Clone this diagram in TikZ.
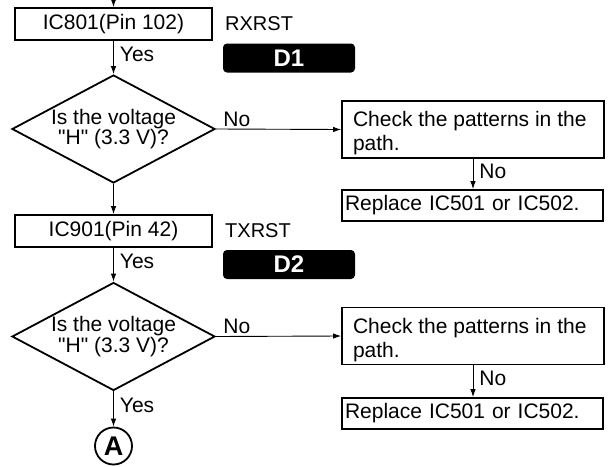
\documentclass[tikz,border=0pt]{standalone}
\usepackage{fontspec}
\setmainfont{Liberation Sans}[Ligatures=TeXOff]
\usetikzlibrary{shapes.geometric,arrows.meta}

\begin{document}
\begin{tikzpicture}[x=1pt,y=-1pt,>={Latex[length=8pt,width=5.5pt]},
	every node/.style={font=\fontsize{21}{24}\selectfont},
	icbox/.style={draw,line width=1.8pt,minimum width=197pt,minimum height=32pt,inner sep=0pt},
	chkbox/.style={draw,line width=1.8pt,minimum width=262pt,minimum height=57pt,inner xsep=11pt,inner ysep=0pt},
	repbox/.style={draw,line width=1.8pt,text width=255pt,align=left,minimum height=31pt,inner xsep=3pt,inner ysep=0pt},
	query/.style={diamond,draw,line width=1.8pt,aspect=1.88,minimum width=203pt,minimum height=108pt,inner sep=0pt,align=center,font=\fontsize{21}{19}\selectfont},
	badge/.style={fill=black,rounded corners=4pt,minimum width=132pt,minimum height=29pt,inner sep=0pt,text=white,font=\bfseries\fontsize{24}{24}\selectfont},
	signal/.style={anchor=west,inner sep=0pt,font=\fontsize{20}{24}\selectfont},
	flow/.style={->,line width=0.9pt},
	ans/.style={inner sep=2pt,xshift=4pt}]
	\useasboundingbox (0,0) rectangle (613,466);
	% first check (D1)
	\coordinate (in) at (113.5,0);
	\node[icbox] (ic801) at (113.5,24) {IC801(Pin 102)};
	\node[signal] (rx) at (225,24) {RXRST};
	\node[badge] (d1) at (289,58) {D1};
	\node[query] (q1) at (113.5,129) {Is the voltage\\"H" (3.3 V)?};
	\node[chkbox] (chk1) at (473,129.5) {\raisebox{-4pt}[\height][\depth]{\parbox{240pt}{\raggedright Check the patterns in the\\path.}}};
	\node[repbox] (rep1) at (472.5,205.5) {Replace IC501 or IC502.};
	% second check (D2)
	\node[icbox] (ic901) at (113.5,231) {IC901(Pin 42)};
	\node[signal] (tx) at (225,231) {TXRST};
	\node[badge] (d2) at (289,264.5) {D2};
	\node[query] (q2) at (113.5,336.5) {Is the voltage\\"H" (3.3 V)?};
	\node[chkbox] (chk2) at (473,336) {\raisebox{-4pt}[\height][\depth]{\parbox{240pt}{\raggedright Check the patterns in the\\path.}}};
	\node[repbox] (rep2) at (472.5,413.5) {Replace IC501 or IC502.};
	\node[circle,draw,line width=1.8pt,minimum size=37pt,inner sep=0pt,font=\bfseries\fontsize{27}{27}\selectfont] (a) at (113.5,446) {A};
	% arrows
	\draw[flow] (in) -- (ic801.north);
	\draw[flow] (ic801.south) -- (q1.north) node[ans,right,pos=0.4] {Yes};
	\draw[flow] (q1.east) -- (chk1.west) node[ans,pos=0,anchor=south west,xshift=1pt] {No};
	\draw[flow] (chk1.south) -- (rep1.north -| chk1.south) node[ans,right,pos=0.4] {No};
	\draw[flow] (q1.south) -- (ic901.north);
	\draw[flow] (ic901.south) -- (q2.north) node[ans,right,pos=0.4] {Yes};
	\draw[flow] (q2.east) -- (chk2.west) node[ans,pos=0,anchor=south west,xshift=1pt] {No};
	\draw[flow] (chk2.south) -- (rep2.north -| chk2.south) node[ans,right,pos=0.4] {No};
	\draw[flow] (q2.south) -- (a.north) node[ans,right,pos=0.4] {Yes};
\end{tikzpicture}
\end{document}
